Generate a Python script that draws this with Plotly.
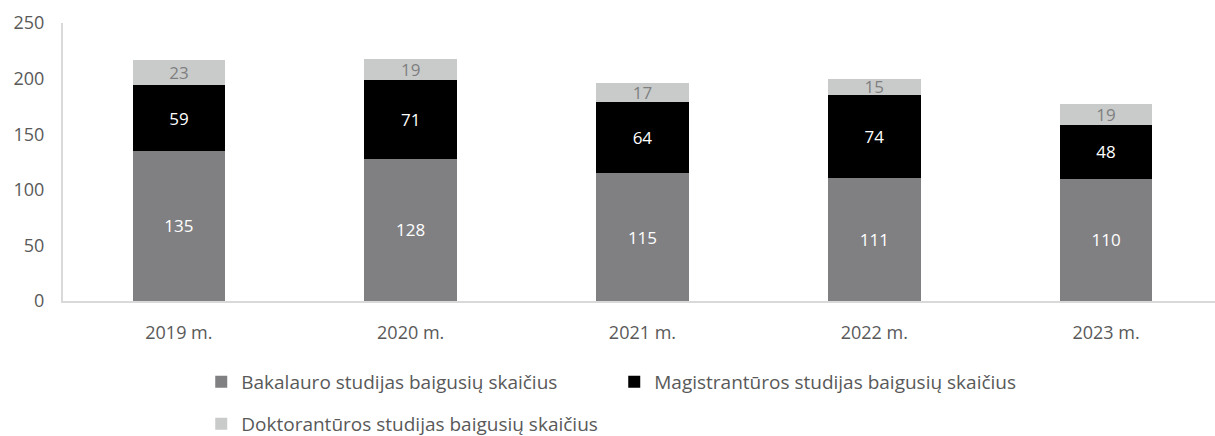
import plotly.graph_objects as go

years = ["2019 m.", "2020 m.", "2021 m.", "2022 m.", "2023 m."]
bakalauro = [135, 128, 115, 111, 110]
magistro = [59, 71, 64, 74, 48]
doktoranturos = [23, 19, 17, 15, 19]

names = ["Bakalauro studijas baigusių skaičius",
         "Magistrantūros studijas baigusių skaičius",
         "Doktorantūros studijas baigusių skaičius"]

FONT = "Open Sans"
fig = go.Figure()
fig.add_trace(go.Bar(x=years, y=bakalauro, name=names[0], marker_color="#808083",
                     text=bakalauro, textfont=dict(color="white", size=17, family=FONT),
                     legend="legend"))
fig.add_trace(go.Bar(x=years, y=magistro, name=names[1], marker_color="#000000",
                     text=magistro, textfont=dict(color="white", size=17, family=FONT),
                     legend="legend"))
fig.add_trace(go.Bar(x=years, y=doktoranturos, name=names[2], marker_color="#c9cbcb",
                     text=doktoranturos, textfont=dict(color="#7f7f7f", size=17, family=FONT),
                     legend="legend2"))

fig.update_traces(marker_line_width=0, cliponaxis=False, hoverinfo="skip",
                  textposition="inside", insidetextanchor="middle", textangle=0,
                  constraintext="none")

fig.update_layout(
    width=1215, height=436,
    barmode="stack", bargap=0.6,
    plot_bgcolor="white", paper_bgcolor="white",
    margin=dict(l=63, r=0, t=23, b=135, autoexpand=False),
    font=dict(family=FONT, size=17, color="#595959"),
    uniformtext=dict(minsize=17, mode="show"),
    xaxis=dict(range=[-0.5, 4.47], showline=True, linecolor="#d9d9d9", linewidth=2,
               showgrid=False, ticks="", ticklabelstandoff=14,
               tickfont=dict(size=18, color="#595959")),
    yaxis=dict(range=[0, 250], dtick=50, showline=True, linecolor="#d9d9d9", linewidth=2,
               showgrid=False, zeroline=False, ticks="", ticklabelstandoff=13,
               tickfont=dict(size=18, color="#595959")),
    legend=dict(orientation="h", x=0.12, xanchor="left",
                yref="container", y=1 - 382 / 436, yanchor="middle",
                entrywidth=368, entrywidthmode="pixels", traceorder="normal",
                font=dict(size=19, color="#595959", family=FONT)),
    legend2=dict(orientation="h", x=0.12, xanchor="left",
                 yref="container", y=1 - 424 / 436, yanchor="middle",
                 font=dict(size=19, color="#595959", family=FONT)),
)

fig.write_html("out.html", config={"displayModeBar": False},
               post_script="document.body.style.margin='0';")
